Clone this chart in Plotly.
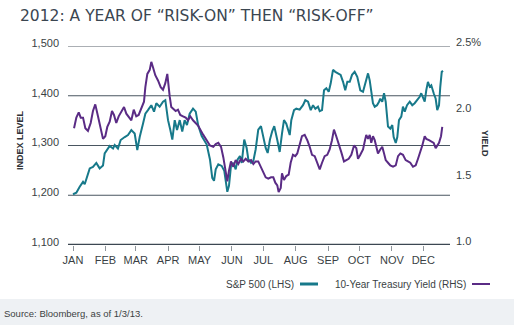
import plotly.graph_objects as go

# ---------------- data ----------------
# x = day of year 2012 (0 = Jan 1)
SP_DAY = [0, 3.2, 6.4, 9.6, 11.2, 12.7, 14.3, 16.0, 19.1, 22.3, 25.5, 28.7, 30.3, 32.8, 35.1,
          38.3, 39.9, 43.0, 45.6, 49.5, 52.6, 55.8, 59.0, 61.5, 63.8, 67.0, 69.2, 71.7, 74.9,
          77.5, 79.7, 82.9, 86.1, 88.3, 90.9, 93.1, 95.0, 97.3, 99.5, 102.1, 104.5, 106.8,
          109.0, 111.6, 114.8, 117.4, 119.8, 123.1, 127.9, 131.0, 133.2, 134.9, 136.5, 139.0,
          142.2, 144.7, 146.3, 147.6, 149.2, 151.1, 153.3, 155.6, 157.5, 159.7, 161.4, 163.8,
          166.1, 167.7, 170.3, 172.5, 174.7, 177.2, 179.8, 182.0, 184.3, 186.2, 188.4, 190.6,
          192.5, 195.4, 197.7, 199.9, 201.8, 204.0, 207.3, 208.8, 211.4, 213.6, 216.8, 220.0,
          222.2, 224.8, 227.4, 229.6, 231.8, 234.3, 236.0, 238.2, 240.1, 242.3, 244.6, 246.5,
          248.7, 250.9, 253.5, 256.0, 258.3, 260.4, 262.4, 264.7, 266.9, 269.4, 271.9, 272.6,
          274.8, 277.4, 280.0, 282.2, 283.8, 285.3, 286.9, 288.6, 290.8, 292.7, 293.9, 295.8,
          297.5, 299.1, 300.3, 301.3, 303.5, 305.4, 306.7, 308.7, 310.2, 311.8, 314.0, 315.6,
          317.3, 319.5, 322.1, 324.5, 326.8, 329.0, 331.6, 333.1, 334.8, 336.4, 337.9, 339.5,
          341.2, 342.7, 345.0, 346.9, 348.4, 350.1, 351.3, 352.7, 353.9]
SP500 = [1202, 1205, 1217, 1227, 1222, 1232, 1247, 1254, 1257, 1265, 1254, 1260, 1284, 1292, 1299,
         1294, 1301, 1294, 1311, 1317, 1321, 1331, 1324, 1291, 1317, 1344, 1364, 1371, 1381,
         1368, 1385, 1378, 1388, 1391, 1351, 1331, 1312, 1351, 1331, 1351, 1328, 1351,
         1341, 1364, 1374, 1368, 1340, 1319, 1302, 1272, 1235, 1229, 1252, 1262,
         1259, 1249, 1225, 1207, 1219, 1259, 1265, 1252, 1272, 1279, 1265, 1312,
         1295, 1272, 1265, 1269, 1292, 1332, 1339, 1319, 1295, 1285, 1312, 1329,
         1339, 1311, 1287, 1324, 1351, 1344, 1321, 1351, 1371, 1374, 1372, 1381,
         1391, 1388, 1371, 1381, 1374, 1378, 1369, 1371, 1411, 1415, 1408, 1425,
         1452, 1448, 1445, 1442, 1428, 1411, 1428, 1428, 1442, 1448, 1438, 1431,
         1411, 1408, 1431, 1445, 1431, 1408, 1385, 1378, 1381, 1388, 1394, 1388,
         1405, 1388, 1348, 1338, 1334, 1341, 1317, 1305, 1317, 1351, 1358, 1378,
         1368, 1381, 1388, 1381, 1385, 1391, 1398, 1405, 1394, 1388, 1411, 1428,
         1418, 1421, 1405, 1394, 1371, 1381, 1418, 1448, 1450]

YLD_DAY = [1.0, 3.2, 5.5, 7.4, 9.6, 11.8, 14.3, 16.9, 19.1, 21.3, 23.9, 26.5, 28.7, 30.9, 32.8,
           35.1, 37.3, 39.2, 41.4, 43.7, 46.2, 48.8, 51.0, 53.3, 55.8, 58.1, 60.5, 62.8, 65.3,
           67.9, 69.2, 71.1, 73.4, 74.9, 76.5, 78.7, 81.3, 83.9, 86.1, 88.3, 90.2, 90.9, 92.5,
           94.0, 95.6, 98.2, 100.4, 102.6, 105.2, 107.8, 110.0, 112.2, 114.8, 117.4, 119.6,
           124.6, 127.9, 131.0, 134.2, 136.5, 139.0, 141.6, 143.8, 146.1, 147.6, 149.2, 151.1,
           153.3, 155.6, 158.1, 160.7, 162.9, 165.2, 167.7, 170.3, 172.5, 174.7, 177.2, 179.8,
           182.0, 184.3, 186.8, 189.4, 191.6, 193.5, 195.4, 196.7, 198.7, 199.9, 201.8, 204.0,
           206.3, 208.2, 210.4, 212.6, 214.5, 216.8, 219.0, 221.6, 224.1, 226.4, 228.6, 231.2,
           233.7, 236.0, 238.2, 240.7, 243.2, 245.5, 247.7, 249.6, 251.8, 254.1, 256.6, 259.2,
           261.4, 263.7, 266.2, 268.8, 271.0, 272.6, 274.8, 277.4, 279.3, 280.5, 282.2, 283.8,
           285.3, 286.9, 288.6, 290.1, 291.7, 293.9, 295.8, 297.2, 299.1, 301.3, 303.5, 306.1,
           308.7, 310.9, 313.1, 315.6, 318.2, 320.4, 322.6, 325.2, 327.8, 330.0, 332.2, 334.1,
           336.4, 337.9, 340.5, 342.7, 345.0, 346.9, 348.2, 350.1, 352.0, 353.2]
YIELD = [1.88, 1.96, 2.00, 1.96, 1.96, 1.88, 1.86, 1.92, 2.01, 2.06, 1.97, 1.87, 1.80, 1.82, 1.89,
         1.93, 2.01, 1.98, 1.92, 1.97, 2.01, 2.04, 1.99, 1.97, 1.94, 2.02, 1.97, 1.98, 2.03,
         2.08, 2.19, 2.29, 2.32, 2.38, 2.34, 2.28, 2.24, 2.19, 2.17, 2.22, 2.29, 2.22, 2.12,
         2.04, 2.03, 2.01, 2.02, 1.98, 1.97, 1.96, 1.94, 1.97, 1.94, 1.92, 1.90,
         1.83, 1.79, 1.75, 1.74, 1.76, 1.77, 1.74, 1.66, 1.54, 1.48, 1.56, 1.63,
         1.59, 1.64, 1.61, 1.65, 1.63, 1.65, 1.63, 1.64, 1.61, 1.63, 1.63, 1.59,
         1.55, 1.51, 1.50, 1.51, 1.51, 1.47, 1.45, 1.40, 1.43, 1.54, 1.49, 1.52,
         1.53, 1.62, 1.68, 1.67, 1.69, 1.75, 1.82, 1.83, 1.79, 1.74, 1.68, 1.67,
         1.62, 1.57, 1.62, 1.67, 1.68, 1.72, 1.79, 1.87, 1.82, 1.77, 1.70, 1.63,
         1.64, 1.65, 1.68, 1.75, 1.73, 1.65, 1.68, 1.72, 1.79, 1.83, 1.80, 1.83,
         1.77, 1.82, 1.79, 1.73, 1.69, 1.72, 1.74, 1.70, 1.64, 1.62, 1.60, 1.59,
         1.60, 1.67, 1.69, 1.68, 1.64, 1.63, 1.62, 1.59, 1.60, 1.65, 1.70, 1.75,
         1.82, 1.80, 1.79, 1.78, 1.77, 1.73, 1.75, 1.77, 1.82, 1.89]

MONTH_START_DAY = [0, 31, 60, 91, 121, 152, 182, 213, 244, 274, 305, 335]
MONTH_LABELS = ["JAN", "FEB", "MAR", "APR", "MAY", "JUN", "JUL", "AUG", "SEP", "OCT", "NOV", "DEC"]
LEFT_TICKS = [1100, 1200, 1300, 1400, 1500]
LEFT_LABELS = ["1,100", "1,200", "1,300", "1,400", "1,500"]
RIGHT_TICKS = [1.0, 1.5, 2.0, 2.5]
RIGHT_LABELS = ["1.0", "1.5", "2.0", "2.5%"]

TITLE = "2012: A YEAR OF \u201cRISK-ON\u201d THEN \u201cRISK-OFF\u201d"
SERIES_NAMES = ["S&P 500 (LHS)", "10-Year Treasury Yield (RHS)"]
SOURCE = "Source: Bloomberg, as of 1/3/13."

# ---------------- styling / layout ----------------
W, H = 514, 325
ML, MR, MT, MB = 68, 64, 46, 80
PW, PH = W - ML - MR, H - MT - MB
TEAL = "#17798a"
PURPLE = "#5a2b85"
FONT = "Liberation Sans, Arial, sans-serif"
TXT = "#3a3f44"


def px_x(px):
    return (px - ML) / PW


def px_y(py):
    return (H - MB - py) / PH


fig = go.Figure()
fig.add_trace(go.Scatter(x=SP_DAY, y=SP500, mode="lines", name=SERIES_NAMES[0],
                         line=dict(color=TEAL, width=2), yaxis="y", showlegend=False))
fig.add_trace(go.Scatter(x=YLD_DAY, y=YIELD, mode="lines", name=SERIES_NAMES[1],
                         line=dict(color=PURPLE, width=2), yaxis="y2", showlegend=False))

shapes = []
# footer band
shapes.append(dict(type="rect", xref="paper", yref="paper", x0=px_x(0), x1=px_x(W),
                   y0=px_y(H), y1=px_y(299), fillcolor="#eef1f4", line=dict(width=0),
                   layer="below"))
# grid lines
for v in LEFT_TICKS:
    if v == LEFT_TICKS[0]:
        col, wd = "#3c4752", 2.5
    elif v == LEFT_TICKS[-1]:
        col, wd = "#8f959b", 1.5
    else:
        col, wd = "#4a5661", 1.2
    shapes.append(dict(type="line", xref="paper", yref="y", x0=0, x1=1, y0=v, y1=v,
                       line=dict(color=col, width=wd), layer="below"))

# manual legend (text then swatch)
leg_y = px_y(284)
shapes.append(dict(type="line", xref="paper", yref="paper", x0=px_x(300), x1=px_x(318),
                   y0=leg_y, y1=leg_y, line=dict(color=TEAL, width=3)))
shapes.append(dict(type="line", xref="paper", yref="paper", x0=px_x(472), x1=px_x(490),
                   y0=leg_y, y1=leg_y, line=dict(color=PURPLE, width=2)))

annotations = [
    dict(text=TITLE, xref="paper", yref="paper", x=px_x(18), y=px_y(16), xanchor="left",
         yanchor="middle", showarrow=False,
         font=dict(family="DejaVu Sans, sans-serif", size=15.5, color="#3b4651")),
    dict(text="INDEX LEVEL", xref="paper", yref="paper", x=px_x(20), y=px_y(140),
         xanchor="center", yanchor="middle", textangle=-90, showarrow=False,
         font=dict(family=FONT, size=9, color="#2f3338", weight="bold")),
    dict(text="YIELD", xref="paper", yref="paper", x=px_x(485), y=px_y(144),
         xanchor="center", yanchor="middle", textangle=90, showarrow=False,
         font=dict(family=FONT, size=9, color="#2f3338", weight="bold")),
    dict(text=SERIES_NAMES[0], xref="paper", yref="paper", x=px_x(296), y=leg_y,
         xanchor="right", yanchor="middle", showarrow=False,
         font=dict(family=FONT, size=10, color=TXT)),
    dict(text=SERIES_NAMES[1], xref="paper", yref="paper", x=px_x(468), y=leg_y,
         xanchor="right", yanchor="middle", showarrow=False,
         font=dict(family=FONT, size=10, color=TXT)),
    dict(text=SOURCE, xref="paper", yref="paper", x=px_x(2), y=px_y(313),
         xanchor="left", yanchor="middle", showarrow=False,
         font=dict(family=FONT, size=9.5, color="#3c3f42")),
]

fig.update_layout(
    width=W, height=H,
    margin=dict(l=ML, r=MR, t=MT, b=MB, pad=0),
    paper_bgcolor="white", plot_bgcolor="rgba(0,0,0,0)",
    font=dict(family=FONT, size=11, color=TXT),
    showlegend=False,
    shapes=shapes,
    annotations=annotations,
    xaxis=dict(range=[-4.78, 360.6], tickvals=MONTH_START_DAY, ticktext=MONTH_LABELS,
               ticks="outside", ticklen=5, tickwidth=1, tickcolor="#8f959b",
               showgrid=False, zeroline=False, showline=False,
               tickfont=dict(family=FONT, size=11, color=TXT)),
    yaxis=dict(range=[1100, 1500], tickvals=LEFT_TICKS, ticktext=LEFT_LABELS,
               showgrid=False, zeroline=False, showline=False, ticks="",
               ticklabelstandoff=8, ticklabelshift=-3,
               tickfont=dict(family=FONT, size=11, color=TXT)),
    yaxis2=dict(range=[1.0, 2.5], tickvals=RIGHT_TICKS, ticktext=RIGHT_LABELS,
                overlaying="y", side="right", showgrid=False, zeroline=False,
                showline=False, ticks="", ticklabelstandoff=5, ticklabelshift=-4,
                tickfont=dict(family=FONT, size=11, color=TXT)),
)

fig.write_html("out.html")
